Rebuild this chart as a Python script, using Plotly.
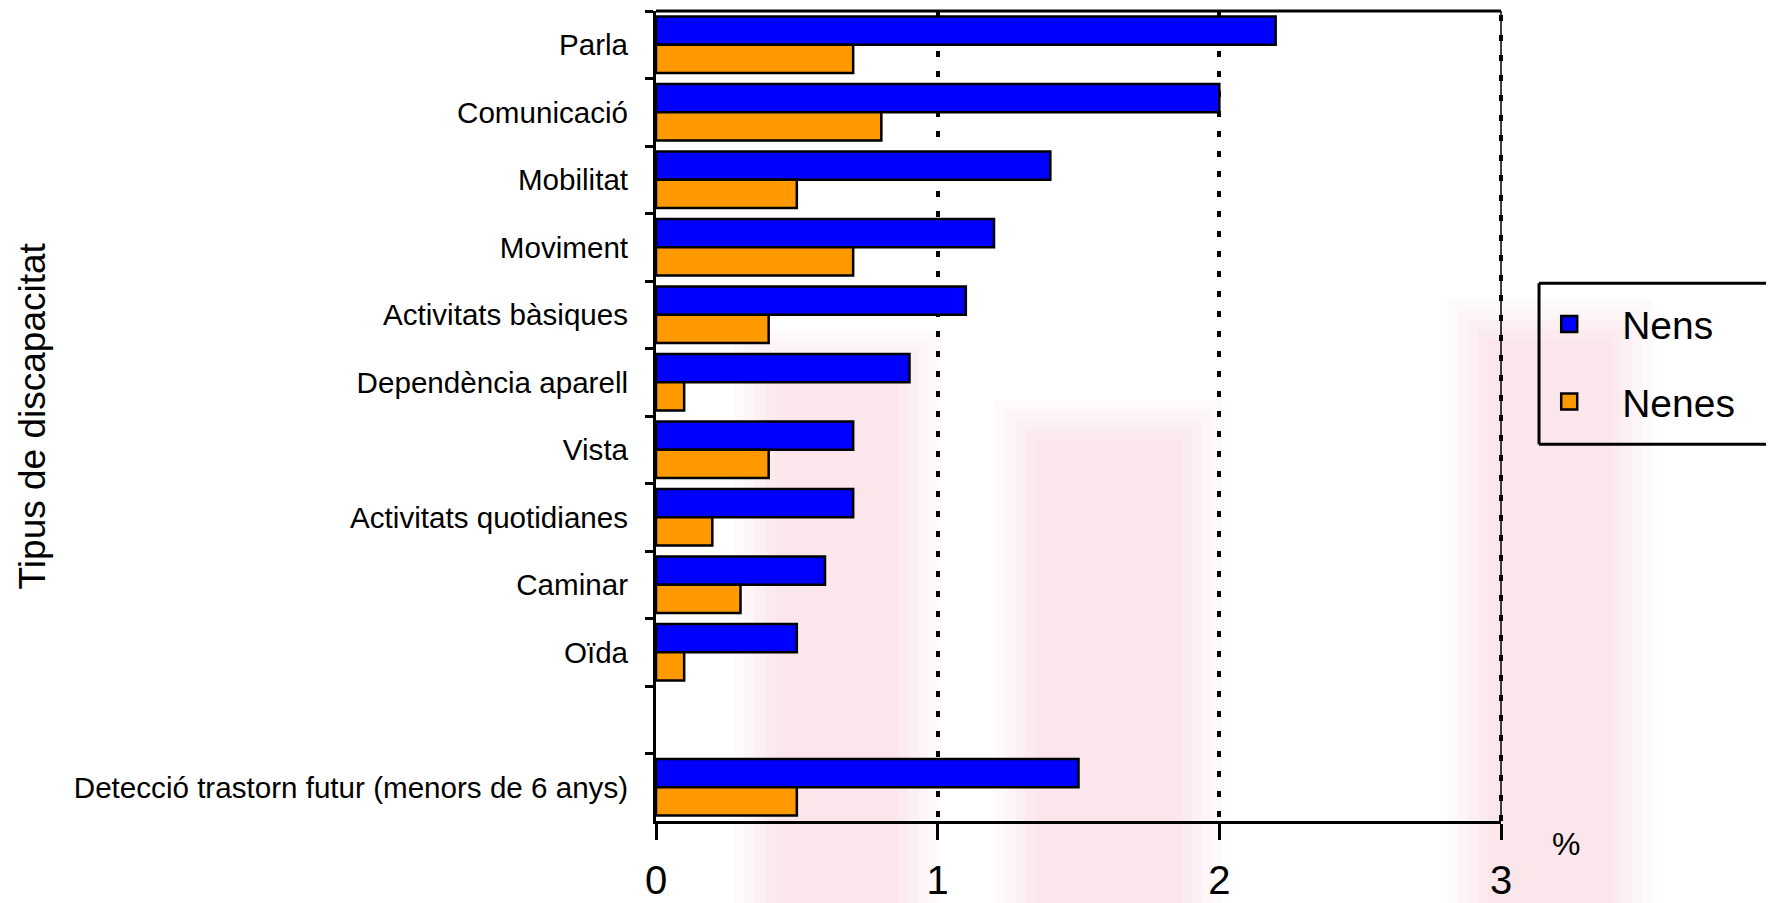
import plotly.graph_objects as go

categories = [
    "Parla", "Comunicació", "Mobilitat", "Moviment", "Activitats bàsiques",
    "Dependència aparell", "Vista", "Activitats quotidianes", "Caminar", "Oïda",
    " ", "Detecció trastorn futur (menors de 6 anys)",
]
nens = [2.2, 2.0, 1.4, 1.2, 1.1, 0.9, 0.7, 0.7, 0.6, 0.5, None, 1.5]
nenes = [0.7, 0.8, 0.5, 0.7, 0.4, 0.1, 0.4, 0.2, 0.3, 0.1, None, 0.5]
x_ticks = [0, 1, 2, 3]
series_names = ["Nens", "Nenes"]
series_colors = ["#0000FF", "#FF9900"]

FONT = "Liberation Sans, Arial, sans-serif"

fig = go.Figure()
for name, vals, col in zip(series_names, [nens, nenes], series_colors):
    fig.add_trace(go.Bar(
        y=categories, x=vals, name=name, orientation="h",
        marker=dict(color=col, line=dict(color="black", width=2.5)),
        showlegend=False,
    ))
# legend entries with larger square swatches
for name, col in zip(series_names, series_colors):
    fig.add_trace(go.Scatter(
        x=[None], y=[None], mode="markers", name=name, legendgroup=name,
        marker=dict(symbol="square", size=16, color=col, line=dict(color="black", width=2.5)),
    ))

# page body has an 8px margin: compensate so the plot lands where the reference has it
W, H = 1766, 895
L, T, PW, PH = 648, 3, 845, 810
fig.update_layout(
    width=W, height=H,
    margin=dict(l=L, r=W - L - PW, t=T, b=H - T - PH, autoexpand=False),
    paper_bgcolor="white", plot_bgcolor="rgba(0,0,0,0)",
    barmode="group", bargap=0.16, bargroupgap=0.0,
    font=dict(family=FONT, color="black"),
    showlegend=True,
    legend=dict(
        x=1.018, y=0.653, xanchor="left", yanchor="top",
        borderwidth=0, bgcolor="rgba(0,0,0,0)",
        font=dict(size=39, family=FONT), tracegroupgap=24,
        itemwidth=96, itemsizing="trace",
    ),
)

fig.update_yaxes(
    type="category", categoryorder="array", categoryarray=categories,
    autorange="reversed", tickson="boundaries",
    ticks="outside", ticklen=8, tickwidth=2.5, tickcolor="black",
    showline=True, linecolor="black", linewidth=3,
    showgrid=False, zeroline=False,
    tickfont=dict(size=29.6, family=FONT), ticklabelstandoff=19,
)
fig.update_xaxes(
    range=[0, 3], tickvals=x_ticks, ticktext=[str(v) for v in x_ticks],
    ticks="outside", ticklen=16, tickwidth=2.5, tickcolor="black",
    showline=True, linecolor="black", linewidth=3,
    showgrid=True, gridcolor="black", gridwidth=3.5, griddash="6px,14px",
    zeroline=False,
    tickfont=dict(size=40, family=FONT), ticklabelstandoff=6,
)

# faint, soft-edged pink background watermark bands (behind everything)
feather = 0.012
for x0, x1, y1 in [(0.093, 0.335, 0.606), (0.401, 0.670, 0.52), (0.937, 1.179, 0.643)]:
    for k in range(5):
        d = k * feather
        fig.add_shape(type="rect", xref="paper", yref="paper",
                      x0=x0 + d, x1=x1 - d, y0=-0.2, y1=y1 - d,
                      fillcolor="rgba(232,110,128,0.035)", line=dict(width=0), layer="below")

# top border line of the plotting area and dotted right edge
fig.add_shape(type="line", xref="x domain", yref="y domain",
              x0=0, x1=1, y0=1, y1=1, line=dict(color="black", width=3))
fig.add_shape(type="line", xref="x domain", yref="y domain",
              x0=1, x1=1, y0=0, y1=1, line=dict(color="black", width=1.5))
fig.add_shape(type="line", xref="x domain", yref="y domain",
              x0=1, x1=1, y0=0, y1=1, line=dict(color="black", width=4, dash="6px,14px"))
# legend frame (runs off the right edge as in the reference)
for lx0, lx1, ly0, ly1 in [(1.045, 1.6, 0.664, 0.664), (1.045, 1.6, 0.465, 0.465),
                           (1.045, 1.045, 0.465, 0.664)]:
    fig.add_shape(type="line", xref="paper", yref="paper", x0=lx0, x1=lx1, y0=ly0, y1=ly1,
                  line=dict(color="black", width=3))

fig.add_annotation(text="%", xref="paper", yref="paper", x=1.077, y=-0.028,
                   xanchor="center", yanchor="middle",
                   showarrow=False, font=dict(size=32, family=FONT))
fig.add_annotation(text="Tipus de discapacitat", xref="paper", yref="paper",
                   x=-0.738, y=0.5, xanchor="center", yanchor="middle", textangle=-90,
                   showarrow=False, font=dict(size=37, family=FONT))

fig.write_html("out.html")
